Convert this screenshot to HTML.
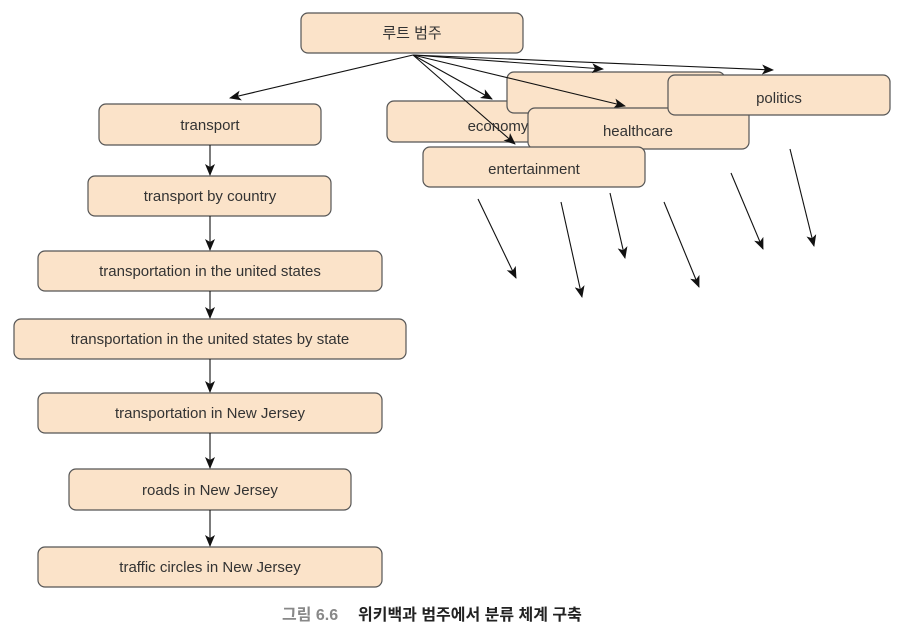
<!DOCTYPE html>
<html><head><meta charset="utf-8"><style>
html,body{margin:0;padding:0;background:#fff;width:903px;height:632px;overflow:hidden}
svg text{font-family:"Liberation Sans","Noto Sans CJK KR",sans-serif;font-size:15px;fill:#333;text-anchor:middle}
</style></head><body>
<svg width="903" height="632" viewBox="0 0 903 632" xmlns="http://www.w3.org/2000/svg">
<defs><marker id="a" markerWidth="12" markerHeight="10" refX="11" refY="5" orient="auto" markerUnits="userSpaceOnUse"><path d="M0,0 L12,5 L0,10 L3,5 Z" fill="#111"/></marker></defs>
<g fill="#fbe3c9" stroke="#555" stroke-width="1.2">
<rect x="301" y="13" width="222" height="40" rx="7"/>
<rect x="99" y="104" width="222" height="41" rx="7"/>
<rect x="88" y="176" width="243" height="40" rx="7"/>
<rect x="38" y="251" width="344" height="40" rx="7"/>
<rect x="14" y="319" width="392" height="40" rx="7"/>
<rect x="38" y="393" width="344" height="40" rx="7"/>
<rect x="69" y="469" width="282" height="41" rx="7"/>
<rect x="38" y="547" width="344" height="40" rx="7"/>
<rect x="387" y="101" width="222" height="41" rx="7"/>
<rect x="507" y="72" width="218" height="41" rx="7"/>
</g>
<g stroke="#111" stroke-width="1.1" fill="none" marker-end="url(#a)">
<line x1="413" y1="55" x2="230" y2="98"/>
<line x1="413" y1="55" x2="603" y2="69"/>
<line x1="413" y1="55" x2="773" y2="70"/>
<line x1="413" y1="55" x2="492" y2="99"/>
<line x1="413" y1="55" x2="625" y2="106"/>
<line x1="413" y1="55" x2="515" y2="144"/>
</g>
<text x="498" y="131">economy</text>
<g fill="#fbe3c9" stroke="#555" stroke-width="1.2">
<rect x="528" y="108" width="221" height="41" rx="7"/>
<rect x="668" y="75" width="222" height="40" rx="7"/>
<rect x="423" y="147" width="222" height="40" rx="7"/>
</g>
<g stroke="#111" stroke-width="1.1" fill="none" marker-end="url(#a)">
<line x1="210" y1="145" x2="210" y2="175"/>
<line x1="210" y1="216" x2="210" y2="250"/>
<line x1="210" y1="291" x2="210" y2="318"/>
<line x1="210" y1="359" x2="210" y2="392"/>
<line x1="210" y1="433" x2="210" y2="468"/>
<line x1="210" y1="510" x2="210" y2="546"/>
<line x1="478" y1="199" x2="516" y2="278"/>
<line x1="561" y1="202" x2="582" y2="297"/>
<line x1="610" y1="193" x2="625" y2="258"/>
<line x1="664" y1="202" x2="699" y2="287"/>
<line x1="731" y1="173" x2="763" y2="249"/>
<line x1="790" y1="149" x2="814" y2="246"/>
</g>
<text x="412" y="38">루트 범주</text>
<text x="210" y="130">transport</text>
<text x="210" y="201">transport by country</text>
<text x="210" y="276">transportation in the united states</text>
<text x="210" y="344">transportation in the united states by state</text>
<text x="210" y="418">transportation in New Jersey</text>
<text x="210" y="495">roads in New Jersey</text>
<text x="210" y="572">traffic circles in New Jersey</text>
<text x="638" y="136">healthcare</text>
<text x="779" y="103">politics</text>
<text x="534" y="174">entertainment</text>
<text x="282" y="620" style="text-anchor:start;font-weight:bold;fill:#888;font-size:16px">그림 6.6</text>
<text x="358" y="620" style="text-anchor:start;font-weight:bold;fill:#222;font-size:16px">위키백과 범주에서 분류 체계 구축</text>
</svg>
</body></html>
